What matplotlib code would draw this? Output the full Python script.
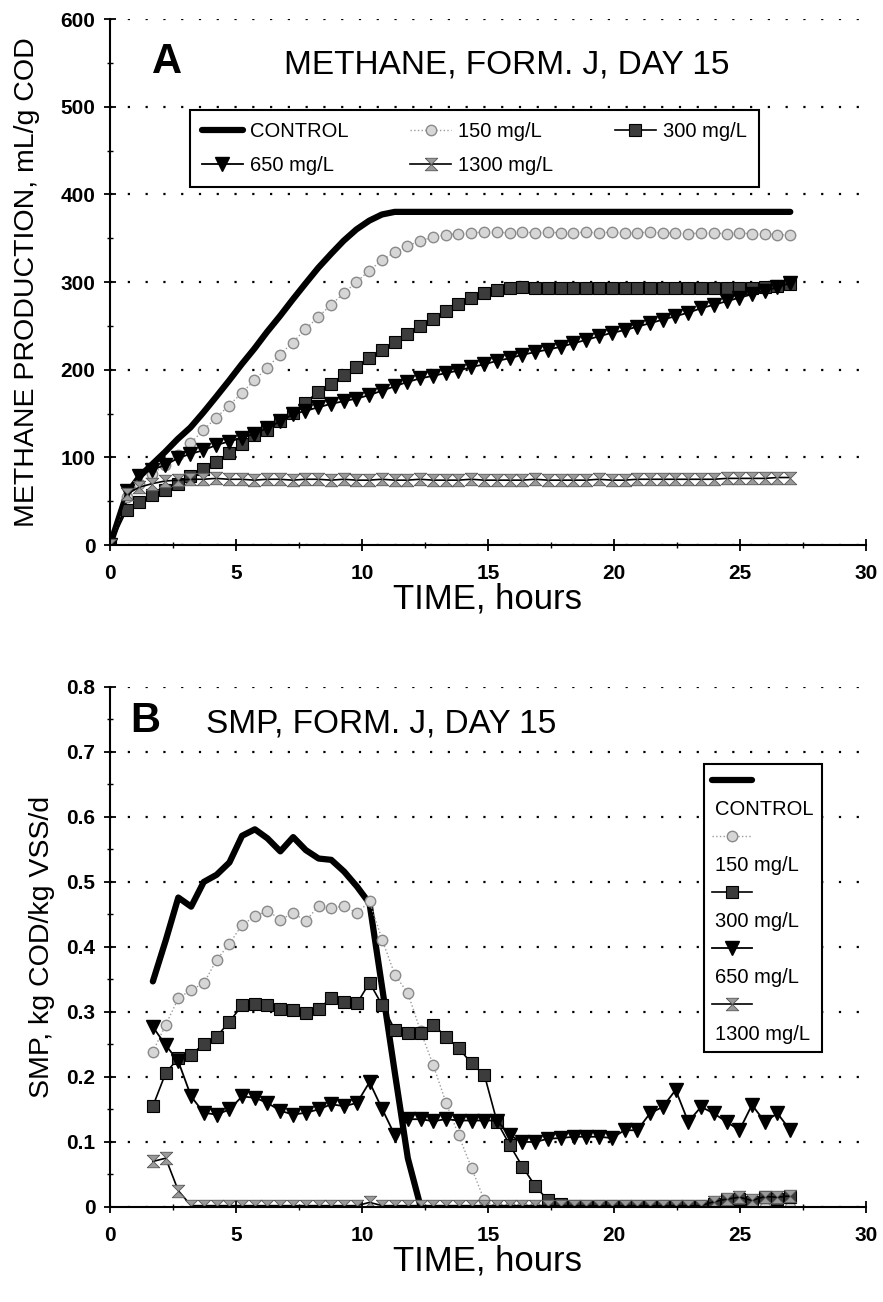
import matplotlib
matplotlib.use('Agg')
import matplotlib.pyplot as plt
from matplotlib.lines import Line2D
from matplotlib.ticker import MultipleLocator, FuncFormatter

plt.rcParams['font.family'] = ['Liberation Sans', 'DejaVu Sans']

# ---- panel A : cumulative methane, mL/g COD ----
hours_a = [0, 0.66, 1.17, 1.67, 2.18, 2.69, 3.19, 3.70, 4.21, 4.71, 5.22, 5.73,
           6.23, 6.74, 7.25, 7.75, 8.26, 8.77, 9.27, 9.78, 10.29, 10.79, 11.30,
           11.80, 12.31, 12.82, 13.32, 13.83, 14.34, 14.84, 15.35, 15.86, 16.36,
           16.87, 17.38, 17.88, 18.39, 18.90, 19.40, 19.91, 20.42, 20.92, 21.43,
           21.93, 22.44, 22.95, 23.45, 23.96, 24.47, 24.97, 25.48, 25.99, 26.49,
           27.00]
control_a = [0, 58, 78, 92, 106, 121, 134, 151, 169, 187, 206, 224, 243, 261, 280,
             298, 316, 332, 347, 360, 370, 377, 380, 380, 380, 380, 380, 380, 380,
             380, 380, 380, 380, 380, 380, 380, 380, 380, 380, 380, 380, 380, 380,
             380, 380, 380, 380, 380, 380, 380, 380, 380, 380, 380]
c150_a = [0, 55, 70, 81, 91, 103, 116, 131, 145, 159, 173, 188, 202, 217, 231,
          246, 260, 274, 287, 300, 313, 325, 334, 341, 347, 351, 354, 355, 356,
          357, 357, 356, 357, 356, 357, 356, 356, 357, 356, 357, 356, 356, 357,
          356, 356, 355, 356, 356, 355, 356, 355, 355, 354, 354]
c300_a = [0, 40, 49, 57, 63, 70, 79, 87, 95, 105, 115, 125, 131, 141, 151, 162,
          175, 184, 194, 203, 213, 222, 232, 241, 250, 258, 267, 275, 282, 288,
          291, 293, 294, 293, 293, 293, 293, 293, 293, 293, 293, 293, 293, 293,
          293, 293, 293, 293, 293, 293, 293, 294, 295, 298]
c650_a = [0, 62, 79, 86, 91, 99, 104, 108, 114, 118, 122, 127, 133, 141, 149,
          153, 157, 161, 164, 167, 171, 176, 181, 186, 190, 193, 196, 199, 203,
          206, 210, 213, 217, 220, 223, 226, 230, 234, 238, 242, 245, 249, 253,
          257, 261, 265, 270, 274, 278, 282, 286, 290, 294, 299]
c1300_a = [0, 58, 66, 70, 73, 74, 75, 75, 76, 75, 75, 74, 75, 75, 74, 75, 75,
           74, 75, 74, 74, 75, 74, 74, 75, 74, 74, 74, 75, 74, 74, 74, 74, 75,
           74, 74, 74, 74, 75, 74, 74, 75, 75, 75, 75, 75, 75, 75, 76, 76, 76,
           76, 77, 77]

# ---- panel B : SMP, kg COD/kg VSS/d ----
hours_b = [1.70, 2.21, 2.71, 3.22, 3.72, 4.23, 4.74, 5.24, 5.75, 6.25, 6.76,
           7.27, 7.77, 8.28, 8.78, 9.29, 9.80, 10.30, 10.81, 11.31, 11.82,
           12.33, 12.83, 13.34, 13.84, 14.35, 14.86, 15.36, 15.87, 16.37, 16.88,
           17.39, 17.89, 18.40, 18.90, 19.41, 19.92, 20.42, 20.93, 21.43, 21.94,
           22.45, 22.95, 23.46, 23.96, 24.47, 24.98, 25.48, 25.99, 26.49, 27.00]
control_b = [0.347, 0.41, 0.476, 0.462, 0.500, 0.511, 0.530, 0.571, 0.581, 0.567,
             0.547, 0.569, 0.549, 0.536, 0.534, 0.516, 0.493, 0.467, 0.335, 0.205,
             0.075, 0.0]
c150_b = [0.239, 0.280, 0.321, 0.334, 0.344, 0.380, 0.405, 0.434, 0.447, 0.456,
          0.442, 0.452, 0.440, 0.463, 0.460, 0.463, 0.452, 0.470, 0.410, 0.357,
          0.329, 0.27, 0.218, 0.16, 0.11, 0.06, 0.01, 0.0, 0.0, 0.0, 0.0, 0.0,
          0.0, 0.0, 0.0, 0.0, 0.0, 0.0, 0.0, 0.0, 0.0, 0.0, 0.0, 0.0, 0.0, 0.0,
          0.0, 0.0, 0.0, 0.0, 0.0]
c300_b = [0.155, 0.206, 0.229, 0.234, 0.251, 0.262, 0.285, 0.310, 0.312, 0.310,
          0.305, 0.303, 0.298, 0.304, 0.322, 0.315, 0.313, 0.345, 0.310, 0.272,
          0.268, 0.268, 0.280, 0.262, 0.244, 0.221, 0.203, 0.131, 0.095, 0.062,
          0.032, 0.010, 0.005, 0.002, 0.002, 0.002, 0.002, 0.002, 0.002, 0.002,
          0.002, 0.002, 0.002, 0.002, 0.005, 0.010, 0.012, 0.008, 0.015, 0.012,
          0.015]
c650_b = [0.277, 0.249, 0.224, 0.170, 0.145, 0.142, 0.150, 0.170, 0.168, 0.160,
          0.148, 0.142, 0.145, 0.150, 0.158, 0.155, 0.160, 0.192, 0.150, 0.110,
          0.135, 0.135, 0.132, 0.135, 0.133, 0.133, 0.133, 0.133, 0.110, 0.100,
          0.100, 0.105, 0.106, 0.108, 0.108, 0.108, 0.106, 0.118, 0.118, 0.144,
          0.154, 0.180, 0.131, 0.154, 0.144, 0.131, 0.118, 0.157, 0.131, 0.144,
          0.118]
c1300_b = [0.070, 0.075, 0.025, 0.002, 0.002, 0.002, 0.002, 0.002, 0.002, 0.002,
           0.002, 0.002, 0.002, 0.002, 0.002, 0.002, 0.002, 0.007, 0.002, 0.002,
           0.002, 0.002, 0.002, 0.002, 0.002, 0.002, 0.002, 0.002, 0.002, 0.002,
           0.002, 0.002, 0.002, 0.002, 0.002, 0.002, 0.002, 0.002, 0.002, 0.002,
           0.002, 0.002, 0.002, 0.002, 0.008, 0.012, 0.015, 0.010, 0.016, 0.015,
           0.017]

labels = ['CONTROL', '150 mg/L', '300 mg/L', '650 mg/L', '1300 mg/L']

hourglass = [(-1, 1), (1, 1), (-1, -1), (1, -1), (-1, 1)]
styles = [
    dict(color='k', lw=4.5, solid_capstyle='round'),
    dict(color='#9a9a9a', lw=1.0, ls=':', marker='o', ms=7.5,
         mfc='#d6d6d6', mec='#8a8a8a', mew=1.0),
    dict(color='k', lw=1.2, marker='s', ms=8.5, mfc='#3c3c3c', mec='k', mew=0.8),
    dict(color='k', lw=1.3, marker='v', ms=9.5, mfc='k', mec='k'),
    dict(color='k', lw=1.2, marker=hourglass, ms=9, mfc='#9a9a9a',
         mec='#555555', mew=0.6),
]


def style_axes(ax, ymax, ystep, yminor):
    ax.set_xlim(0, 30)
    ax.set_ylim(0, ymax)
    for s in ('top', 'right'):
        ax.spines[s].set_visible(False)
    for s in ('left', 'bottom'):
        ax.spines[s].set_linewidth(1.5)
    ax.xaxis.set_major_locator(MultipleLocator(5))
    ax.xaxis.set_minor_locator(MultipleLocator(2.5))
    ax.yaxis.set_major_locator(MultipleLocator(ystep))
    ax.yaxis.set_minor_locator(MultipleLocator(yminor))
    ax.tick_params(which='major', direction='inout', length=9, width=1.3,
                   labelsize=15, pad=6)
    ax.tick_params(axis='x', which='major', pad=9)
    ax.tick_params(which='minor', direction='inout', length=5, width=1.0)
    ax.grid(axis='y', color='k', linestyle=(0, (1, 7)), linewidth=1.6)
    gl = ax.get_ygridlines()
    gl[0].set_visible(False)
    gl[-1].set_visible(False)
    ax.set_xlabel('TIME, hours', fontsize=25, labelpad=0)


fig = plt.figure(figsize=(8.83, 13.02), dpi=100)
ax1 = fig.add_axes([0.1246, 0.5814, 0.856, 0.404])
ax2 = fig.add_axes([0.1246, 0.0730, 0.856, 0.3994])

# panel A
series_a = [control_a, c150_a, c300_a, c650_a, c1300_a]
handles = []
for vals, st, lab in zip(series_a, styles, labels):
    h, = ax1.plot(hours_a, vals, label=lab, **st)
    handles.append(h)
style_axes(ax1, 600, 100, 50)
ax1.yaxis.set_major_formatter(FuncFormatter(lambda v, p: f'{v:.0f}'))
ax1.set_ylabel('METHANE PRODUCTION, mL/g COD', fontsize=20.5, labelpad=15)
ax1.text(1.65, 538, 'A', fontsize=30, fontweight='bold', va='baseline')
ax1.text(6.9, 538, 'METHANE, FORM. J, DAY 15', fontsize=24, va='baseline')
order = [0, 3, 1, 4, 2]
leg1 = ax1.legend([handles[i] for i in order], [labels[i] for i in order],
                  ncol=3, loc='upper left', bbox_to_anchor=(0.106, 0.827),
                  fontsize=14.5, handlelength=2.0, handletextpad=0.35,
                  columnspacing=3.1, labelspacing=0.75, borderpad=0.6,
                  borderaxespad=0, fancybox=False, framealpha=1, edgecolor='k')
leg1.get_frame().set_linewidth(1.5)

# panel B
series_b = [control_b, c150_b, c300_b, c650_b, c1300_b]
handles_b = []
for vals, st, lab in zip(series_b, styles, labels):
    h, = ax2.plot(hours_b[:len(vals)], vals, label=lab, **st)
    handles_b.append(h)
style_axes(ax2, 0.8, 0.1, 0.05)
ax2.yaxis.set_major_formatter(
    FuncFormatter(lambda v, p: '0' if abs(v) < 1e-9 else f'{v:.1f}'))
ax2.set_ylabel('SMP, kg COD/kg VSS/d', fontsize=20.5, labelpad=8)
ax2.text(0.8, 0.73, 'B', fontsize=30, fontweight='bold', va='baseline')
ax2.text(3.8, 0.73, 'SMP, FORM. J, DAY 15', fontsize=24, va='baseline')

blank = Line2D([], [], alpha=0)
leg_h, leg_l = [], []
for h, lab in zip(handles_b, labels):
    leg_h += [h, blank]
    leg_l += ['', lab]
leg2 = ax2.legend(leg_h, leg_l, ncol=1, loc='upper left',
                  bbox_to_anchor=(0.786, 0.852), fontsize=14.5,
                  handlelength=2.0, handletextpad=-1.85, labelspacing=0.45,
                  borderpad=0.4, borderaxespad=0, fancybox=False, framealpha=1,
                  edgecolor='k')
leg2.get_frame().set_linewidth(1.5)

for ax in (ax1, ax2):
    for lab in ax.get_xticklabels() + ax.get_yticklabels():
        lab.set_fontweight('bold')

fig.savefig('out.png', dpi=100)
